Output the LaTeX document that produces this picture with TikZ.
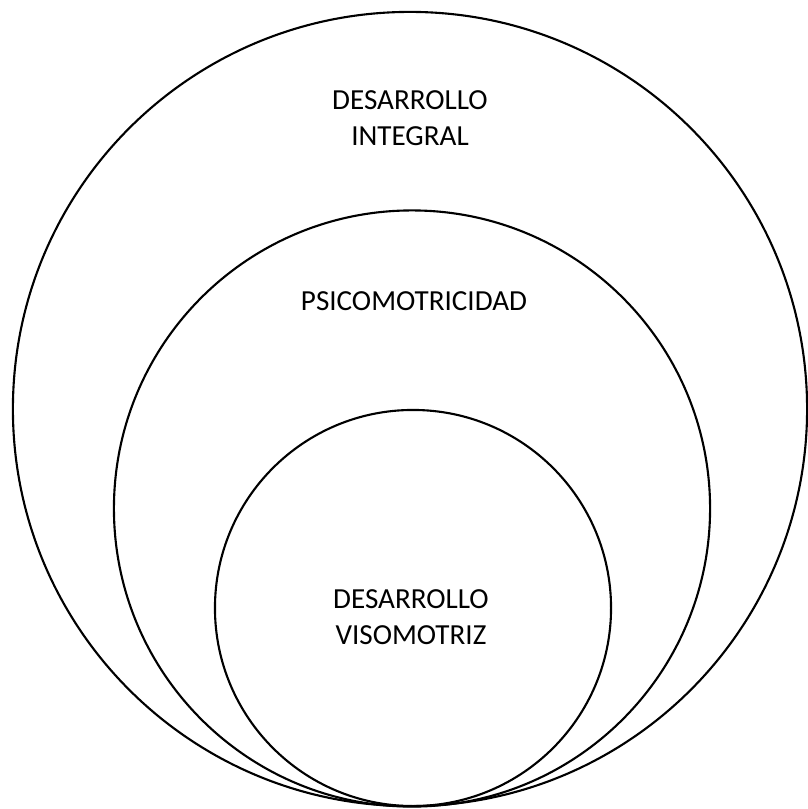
\documentclass[tikz,border=0pt]{standalone}
\usepackage{fontspec}
\setmainfont{Carlito}

\begin{document}
\begin{tikzpicture}[x=0.025cm, y=-0.025cm,
  ring/.style={circle, draw, line width=1.5pt, inner sep=0pt},
  lbl/.style={align=center, inner sep=0pt, font=\fontsize{20.7pt}{25.6pt}\selectfont}]
\useasboundingbox (0,0) rectangle (808,809);

\node (integral) at (410,409) [ring, minimum size=19.85cm] {};
\node (psico) at (412,508.5) [ring, minimum size=14.9cm] {};
\node (viso) at (413,608) [ring, minimum size=9.9cm] {};

\node (integrallbl) at (410,118) [lbl] {DESARROLLO\\INTEGRAL};
\node (psicolbl) at (414,301) [lbl] {PSICOMOTRICIDAD};
\node (visolbl) at (411,617) [lbl] {DESARROLLO\\VISOMOTRIZ};
\end{tikzpicture}
\end{document}
